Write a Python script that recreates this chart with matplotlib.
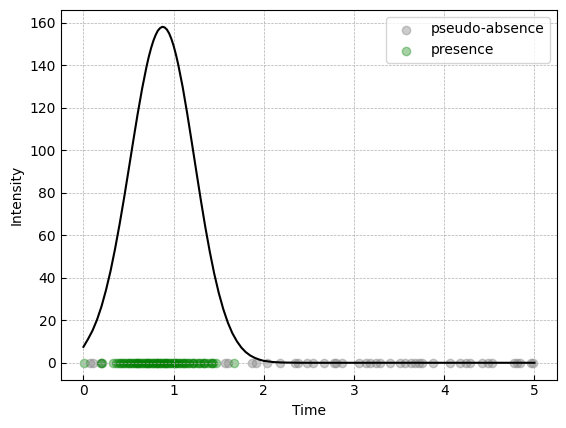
import numpy as np
import matplotlib
matplotlib.use("Agg")
import matplotlib.pyplot as plt

# intensity curve
t_curve = [0.00, 0.05, 0.10, 0.15, 0.20, 0.25, 0.30, 0.35, 0.40, 0.45,
           0.50, 0.55, 0.60, 0.65, 0.70, 0.725, 0.75, 0.775, 0.80, 0.825,
           0.85, 0.875, 0.90, 0.925, 0.95, 0.975, 1.00, 1.025, 1.05, 1.10,
           1.15, 1.20, 1.25, 1.30, 1.35, 1.40, 1.45,
           1.50, 1.55, 1.60, 1.65, 1.70, 1.75, 1.80, 1.85, 1.90, 1.95,
           2.00, 2.10, 2.20, 2.40, 2.60, 3.00, 4.00, 5.00]
intensity = [7.5, 11.1, 15.1, 20.2, 26.5, 34.2, 43.1, 53.5, 65.0, 77.4,
             90.5, 103.8, 116.8, 128.8, 139.4, 144.0, 148.0, 151.4, 154.1, 156.2,
             157.4, 158.0, 157.7, 156.7, 154.9, 152.3, 149.0, 145.0, 140.4, 129.7,
             117.3, 104.0, 90.4, 76.9, 64.1, 52.4, 41.9,
             32.9, 25.3, 19.0, 14.0, 10.2, 7.2, 5.0, 3.4, 2.3, 1.5,
             0.9, 0.36, 0.13, 0.01, 0.0, 0.0, 0.0, 0.0]

pseudo_absence = [0.07, 0.11, 0.19, 1.57, 1.60, 1.87, 1.91, 2.04, 2.18, 2.35,
                  2.38, 2.48, 2.55, 2.67, 2.78, 2.80, 2.87, 3.05, 3.13, 3.18,
                  3.24, 3.29, 3.40, 3.51, 3.57, 3.63, 3.68, 3.72, 3.75, 3.88,
                  4.06, 4.18, 4.24, 4.29, 4.42, 4.49, 4.53, 4.77, 4.81, 4.84,
                  4.96, 4.99]
presence = [0.01, 0.20, 0.21, 0.33, 0.36, 0.38, 0.40, 0.42, 0.44, 0.45,
            0.47, 0.49, 0.50, 0.52, 0.54, 0.55, 0.57, 0.58, 0.59, 0.61,
            0.62, 0.63, 0.65, 0.66, 0.68, 0.69, 0.70, 0.72, 0.73, 0.74,
            0.76, 0.77, 0.78, 0.80, 0.81, 0.82, 0.84, 0.85, 0.86, 0.88,
            0.89, 0.90, 0.92, 0.93, 0.94, 0.96, 0.97, 0.99, 1.00, 1.01,
            1.03, 1.04, 1.06, 1.07, 1.09, 1.11, 1.12, 1.14, 1.16, 1.17,
            1.20, 1.22, 1.23, 1.26, 1.28, 1.29, 1.32, 1.34, 1.35, 1.38,
            1.41, 1.43, 1.44, 1.47, 1.67]

fig, ax = plt.subplots(figsize=(6.4, 4.8), dpi=100)
ax.scatter(pseudo_absence, np.zeros(len(pseudo_absence)), color="gray", alpha=0.4,
           label="pseudo-absence")
ax.scatter(presence, np.zeros(len(presence)), color="green", alpha=0.35,
           label="presence")
ax.plot(t_curve, intensity, color="black", lw=1.5, zorder=3)

ax.set_xlabel("Time")
ax.set_ylabel("Intensity")
ax.tick_params(direction="in")
ax.grid(True, linestyle="--", linewidth=0.5, color="#b0b0b0")
ax.legend(loc="upper right")

fig.savefig("out.png", dpi=100, bbox_inches="tight")
